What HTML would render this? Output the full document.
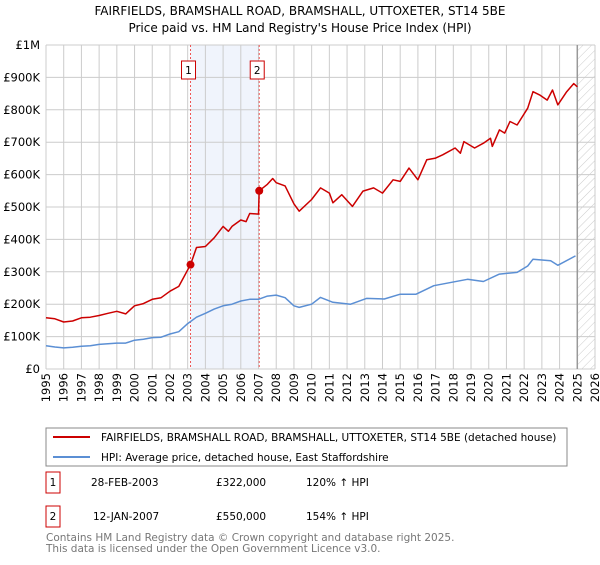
<!DOCTYPE html>
<html><head><meta charset="utf-8"><style>
body{margin:0;background:#fff;font-family:"Liberation Sans","DejaVu Sans",sans-serif;}
svg text{font-family:"DejaVu Sans","Liberation Sans",sans-serif;}
</style></head><body>
<svg id="chart" width="600" height="560" xmlns="http://www.w3.org/2000/svg">
<defs><pattern id="hatch" width="6" height="6" patternUnits="userSpaceOnUse" patternTransform="rotate(45)"><line x1="0" y1="0" x2="0" y2="6" stroke="#ccc" stroke-width="1"/></pattern></defs>
<text x="300" y="15" text-anchor="middle" font-size="12" fill="#000">FAIRFIELDS, BRAMSHALL ROAD, BRAMSHALL, UTTOXETER, ST14 5BE</text>
<text x="300" y="32" text-anchor="middle" font-size="12" fill="#000">Price paid vs. HM Land Registry's House Price Index (HPI)</text>
<g id="grid"></g><g id="series"></g><g id="axes"></g>
<rect x="46" y="428" width="521" height="38" fill="#fff" stroke="#888"/>
<line x1="53" y1="437" x2="90" y2="437" stroke="#cc0000" stroke-width="2"/>
<text x="101" y="441" font-size="10.5">FAIRFIELDS, BRAMSHALL ROAD, BRAMSHALL, UTTOXETER, ST14 5BE (detached house)</text>
<line x1="53" y1="457" x2="90" y2="457" stroke="#5b8fd4" stroke-width="2"/>
<text x="101" y="461" font-size="10.5">HPI: Average price, detached house, East Staffordshire</text>
<g font-size="10.5">
<rect x="46" y="472" width="14" height="21" fill="#fff" stroke="#cc0000"/>
<text x="53" y="486" text-anchor="middle">1</text>
<text x="91" y="486">28-FEB-2003</text>
<text x="216" y="486">£322,000</text>
<text x="306" y="486">120% ↑ HPI</text>
<rect x="46" y="506" width="14" height="21" fill="#fff" stroke="#cc0000"/>
<text x="53" y="520" text-anchor="middle">2</text>
<text x="93" y="520">12-JAN-2007</text>
<text x="216" y="520">£550,000</text>
<text x="306" y="520">154% ↑ HPI</text>
</g>
<text x="46" y="541" font-size="10.5" fill="#777">Contains HM Land Registry data © Crown copyright and database right 2025.</text>
<text x="46" y="552" font-size="10.5" fill="#777">This data is licensed under the Open Government Licence v3.0.</text>
</svg>
<script>
const yTicks=[0,100000,200000,300000,400000,500000,600000,700000,800000,900000,1000000];
const yTickLabels=["£0","£100K","£200K","£300K","£400K","£500K","£600K","£700K","£800K","£900K","£1M"];
const xYears=[1995,1996,1997,1998,1999,2000,2001,2002,2003,2004,2005,2006,2007,2008,2009,2010,2011,2012,2013,2014,2015,2016,2017,2018,2019,2020,2021,2022,2023,2024,2025,2026];
const hpiDates=[1995,1995.5,1996,1996.5,1997,1997.5,1998,1998.5,1999,1999.5,2000,2000.5,2001,2001.5,2002,2002.5,2003,2003.5,2004,2004.5,2005,2005.5,2006,2006.5,2007,2007.5,2008,2008.5,2009,2009.3,2010,2010.5,2011.2,2012.2,2013.1,2014.1,2015,2015.9,2016.9,2018.8,2019.7,2020.6,2021.6,2022.2,2022.5,2023.5,2023.9,2024.9];
const hpiValues=[72000,68000,65000,67000,70000,72000,76000,78000,80000,80000,89000,92000,97000,98000,108000,115000,140000,160000,172000,185000,195000,200000,210000,215000,215000,225000,228000,220000,195000,190000,200000,221000,206000,200000,218000,216000,231000,231000,257000,277000,270000,293000,298000,318000,339000,334000,320000,349000];
const priceDates=[1995,1995.5,1996,1996.5,1997,1997.5,1998,1998.5,1999,1999.5,2000,2000.5,2001,2001.5,2002,2002.5,2003.16,2003.5,2004,2004.5,2005,2005.3,2005.5,2006,2006.3,2006.5,2007,2007.04,2007.5,2007.8,2008,2008.5,2009,2009.3,2010,2010.5,2011,2011.2,2011.7,2012.3,2012.9,2013.5,2014,2014.6,2015,2015.5,2016,2016.5,2017,2017.4,2018.1,2018.4,2018.6,2019.2,2019.7,2020.1,2020.2,2020.6,2020.9,2021.2,2021.6,2022.2,2022.5,2022.9,2023.3,2023.6,2023.9,2024.4,2024.8,2025];
const priceValues=[158000,155000,145000,148000,158000,160000,165000,172000,178000,170000,195000,202000,215000,220000,240000,255000,322000,375000,378000,405000,440000,425000,440000,460000,455000,480000,478000,550000,570000,588000,575000,565000,510000,487000,523000,559000,543000,513000,538000,502000,549000,559000,543000,584000,579000,620000,584000,646000,651000,661000,682000,666000,702000,682000,697000,712000,687000,738000,728000,764000,753000,805000,856000,845000,830000,861000,815000,856000,881000,871000];
const saleDates=[2003.16,2007.04];
const saleValues=[322000,550000];
const saleLabels=["1","2"];
const L=46,R=595,T=45,B=369;
const X=y=>L+(y-1995)/(2026-1995)*(R-L);
const Y=v=>B-v/1000000*(B-T);
const NS="http://www.w3.org/2000/svg";
function mk(parent,tag,attrs){const e=document.createElementNS(NS,tag);for(const k in attrs)e.setAttribute(k,attrs[k]);parent.appendChild(e);return e;}
const grid=document.getElementById('grid'),series=document.getElementById('series'),axes=document.getElementById('axes');
let r=mk(grid,'rect',{x:X(saleDates[0]),y:T,width:X(saleDates[1])-X(saleDates[0]),height:B-T,fill:'#f0f4fc'});


let h=mk(grid,'rect',{x:X(2025),y:T,width:R-X(2025),height:B-T,fill:'url(#hatch)'});


yTicks.forEach((v,i)=>{
 mk(grid,'line',{x1:L,x2:R,y1:Y(v),y2:Y(v),stroke:'#ccc'});
 const t=mk(axes,'text',{x:L-6,y:Y(v)+4,'text-anchor':'end','font-size':'11.5'});
 t.textContent=yTickLabels[i];
 
 
});
xYears.forEach(yr=>{
 mk(grid,'line',{x1:X(yr),x2:X(yr),y1:T,y2:B,stroke:'#ccc'});
 const t=mk(axes,'text',{x:0,y:0,'text-anchor':'end','font-size':'11.5',transform:`translate(${X(yr)+4},${B+4}) rotate(-90)`});
 t.textContent=yr;
 
 
});
const fl=mk(grid,'line',{x1:X(2025),x2:X(2025),y1:T,y2:B,stroke:'#999','stroke-width':1.5});
saleDates.forEach((d,i)=>{
 const v=mk(grid,'line',{x1:X(d),x2:X(d),y1:T,y2:B,stroke:'#e55','stroke-dasharray':'2,2'});
 
 
});
function path(xs,ys,color,name){
 const p=mk(series,'path',{d:xs.map((x,i)=>(i?'L':'M')+X(x).toFixed(1)+','+Y(ys[i]).toFixed(1)).join(''),fill:'none',stroke:color,'stroke-width':1.5,'stroke-linejoin':'round'});
 
 
}
path(hpiDates,hpiValues,'#5b8fd4','hpi-line');
path(priceDates,priceValues,'#cc0000','property-price-line');
saleDates.forEach((d,i)=>{
 const c=mk(series,'circle',{cx:X(d),cy:Y(saleValues[i]),r:4,fill:'#cc0000'});
 
 
 const b=mk(series,'rect',{x:X(d)-9,y:61,width:14,height:18,fill:'#fff',stroke:'#cc0000'});
 
 
 const t=mk(series,'text',{x:X(d)-2,y:74,'text-anchor':'middle','font-size':'10.5'});
 t.textContent=saleLabels[i];
 
 
});
</script>
</body></html>
